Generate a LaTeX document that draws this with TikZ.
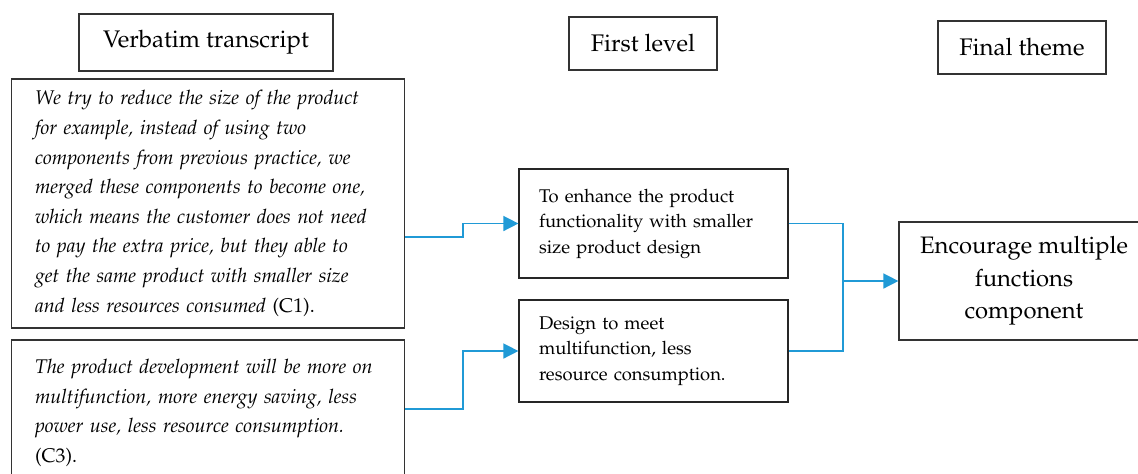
\documentclass[tikz,border=0pt]{standalone}
\usepackage[T1]{fontenc}
\usepackage{mathpazo}
\usepackage{tikz}
\usetikzlibrary{arrows.meta,calc}
\definecolor{flowblue}{RGB}{32,154,214}
\tikzset{>={Triangle[width=7.5pt,length=7.5pt]}}
\tikzset{
  headbox/.style={draw=black!80,line width=0.6pt,inner sep=0pt,font=\fontsize{12}{14}\selectfont},
  quotebox/.style={draw=black!80,line width=0.6pt,align=left,inner xsep=11pt,font=\fontsize{9.9}{14.8}\selectfont\itshape},
  levelbox/.style={draw=black!85,line width=0.6pt,align=left,inner xsep=10pt,font=\fontsize{9.2}{12.75}\selectfont},
  themebox/.style={draw=black!80,line width=0.6pt,align=center,font=\fontsize{11.9}{16.25}\selectfont},
  flow/.style={draw=flowblue,line width=0.75pt}
}

\begin{document}
\begin{tikzpicture}[x=0.5pt,y=-0.5pt]
    % Page frame
    \useasboundingbox (0,0) rectangle (1138,473);
    % Column headings
    \node[headbox,minimum width=127pt,minimum height=28.5pt] (hverb) at (206,42.5) {Verbatim transcript};
    \node[headbox,minimum width=74pt,minimum height=26.5pt] (hfirst) at (643,43.5) {First level};
    \node[headbox,minimum width=84pt,minimum height=26.5pt] (hfinal) at (1022,47.5) {Final theme};
    % Quotes from the transcript
    \node[quotebox,text width=173pt,minimum width=196.5pt,minimum height=124.5pt] (c1) at (208,203.5)
        {We try to reduce the size of the product\\
         for example, instead of using two\\
         components from previous practice, we\\
         merged these components to become one,\\
         which means the customer does not need\\
         to pay the extra price, but they able to\\
         get the same product with smaller size\\
         and less resources consumed \upshape(C1).};
    \node[quotebox,text width=173pt,minimum width=196.5pt,minimum height=73pt] (c3) at (208,413)
        {The product development will be more on\\
         multifunction, more energy saving, less\\
         power use, less resource consumption.\\
         \upshape(C3).};
    % First level codes
    \node[levelbox,text width=114.5pt,minimum width=134.5pt,minimum height=54.5pt] (enh) at (653.5,223.5)
        {To enhance the product\\
         functionality with smaller\\
         size product design};
    \node[levelbox,text width=114.5pt,minimum width=134.5pt,minimum height=51pt] (des) at (653.5,351)
        {Design to meet\\
         multifunction, less\\
         resource consumption.};
    % Final theme
    \node[themebox,minimum width=125pt,minimum height=59pt] (enc) at (1024,281)
        {Encourage multiple\\ functions\\ component};
    % Connectors
    \coordinate (join) at (843,281);
    \draw[flow,->] ([yshift=-16.75pt]c1.east) -- ++(58,0) |- (enh.west);
    \draw[flow,->] ([yshift=2pt]c3.east) -- ++(58,0) |- (des.west);
    \draw[flow] (enh.east) -| (join) |- (des.east);
    \draw[flow,->] (join) -- (enc.west);
\end{tikzpicture}
\end{document}
